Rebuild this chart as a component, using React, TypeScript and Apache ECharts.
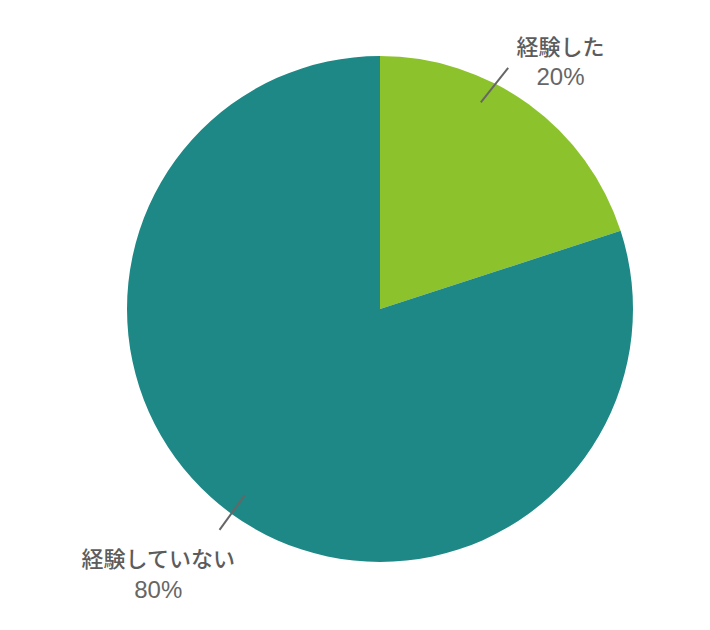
import React, { useEffect, useRef } from 'react';
import * as echarts from 'echarts';

const categories = ['経験した', '経験していない'];
const values = [20, 80];
const colors = ['#8CC22B', '#1E8886'];

// pie geometry (px)
const CX = 380;
const CY = 309;
const R = 253;

// per-slice layout tweaks: label line angle shift [start, end] (deg),
// label distance beyond the rim and angle shift
const LINE_SHIFT = [[-10, -8], [0, 0]];
const LABEL_POS = [[54, 0], [92, 4]];

const total = values.reduce((a, b) => a + b, 0);

function midAngle(i: number) {
  let acc = 0;
  for (let k = 0; k < i; k++) acc += values[k];
  return ((acc + values[i] / 2) / total) * 360;
}

function polar(angleDeg: number, r: number) {
  const a = (angleDeg * Math.PI) / 180;
  return [CX + r * Math.sin(a), CY - r * Math.cos(a)];
}

const App: React.FC = () => {
  const chartRef = useRef<HTMLDivElement>(null);

  useEffect(() => {
    document.body.style.margin = '0';
    if (!chartRef.current) return;
    const chart = echarts.init(chartRef.current, undefined, { renderer: 'svg' });

    const pieData = categories.map((name, i) => ({
      name,
      value: values[i],
      itemStyle: { color: colors[i] }
    }));

    const option: echarts.EChartsOption = {
      animation: false,
      backgroundColor: '#ffffff',
      series: [
        {
          // the slices
          type: 'pie',
          center: [CX, CY],
          radius: [0, R],
          startAngle: 90,
          clockwise: true,
          silent: true,
          data: pieData,
          label: { show: false },
          labelLine: { show: false }
        },
        {
          // transparent copy on top, only for labels and their lines
          type: 'pie',
          z: 5,
          center: [CX, CY],
          radius: [0, R],
          startAngle: 90,
          clockwise: true,
          silent: true,
          avoidLabelOverlap: false,
          data: pieData.map((d) => ({ ...d, itemStyle: { color: 'rgba(0,0,0,0)' } })),
          label: {
            show: true,
            position: 'outside',
            formatter: (p: any) =>
              `{n|${p.name}}\n{p|${Math.round((p.value / total) * 100)}%}`,
            rich: {
              n: {
                fontSize: 22,
                fontWeight: 500,
                color: '#5c5c5c',
                lineHeight: 32,
                fontFamily: '"Noto Sans CJK JP", sans-serif',
                align: 'center'
              },
              p: {
                fontSize: 24,
                color: '#666666',
                lineHeight: 32,
                fontFamily: '"Liberation Sans", Arial, sans-serif',
                align: 'center'
              }
            }
          },
          labelLine: {
            show: true,
            length: 20,
            length2: 0,
            lineStyle: { color: '#666666', width: 2 }
          },
          labelLayout: (params: any) => {
            const i = params.dataIndex;
            const m = midAngle(i);
            const [s0, s1] = LINE_SHIFT[i];
            const p0 = polar(m + s0, 230);
            const p1 = polar(m + s1, 273);
            const [lr, la] = LABEL_POS[i];
            const c = polar(m + la, R + lr);
            return {
              x: c[0],
              y: c[1],
              align: 'center',
              verticalAlign: 'middle',
              labelLinePoints: [p0, p1, p1]
            };
          },
          emphasis: { disabled: true }
        }
      ]
    };

    chart.setOption(option);
    return () => chart.dispose();
  }, []);

  return <div ref={chartRef} style={{ width: '710px', height: '630px' }} />;
};

export default App;
